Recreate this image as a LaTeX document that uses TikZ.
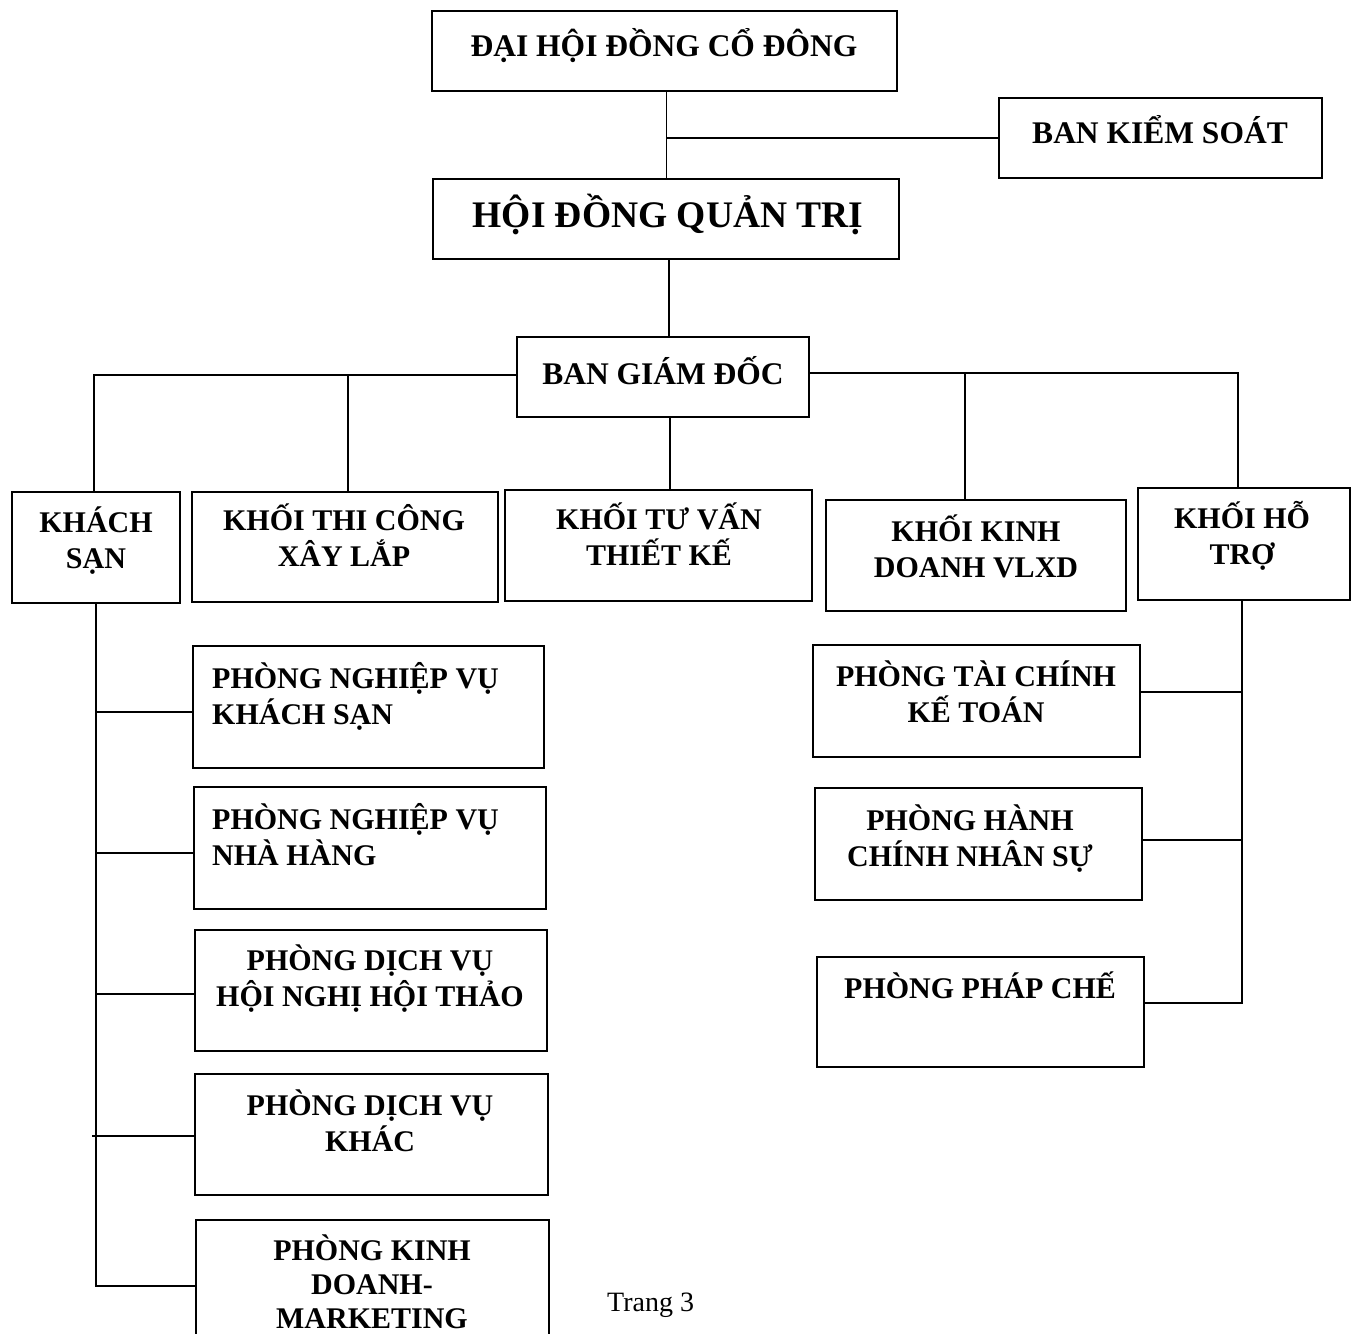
\documentclass[tikz,border=0pt]{standalone}
\usepackage{fontspec}
\setmainfont{Liberation Serif}
\newcommand\orgbox[5]{\node[box, minimum width={#4-#2}, minimum height={#5-#3}] (#1) at ({(#2+#4)/2},{(#3+#5)/2}) {};}
\begin{document}
\begin{tikzpicture}[x=1pt,y=-1pt,
  box/.style={draw=black, line width=1.7pt, inner sep=0pt},
  lbl/.style={font=\bfseries\fontsize{30}{35.5}\selectfont, inner sep=0pt, align=center, anchor=base},
  lbll/.style={lbl, align=left, anchor=base west},
  big/.style={font=\bfseries\fontsize{31.5}{36}\selectfont},
  huge/.style={font=\bfseries\fontsize{37.5}{42}\selectfont},
  con/.style={line width=1.7pt}]
\useasboundingbox (0,0) rectangle (1357,1333);
\clip (0,0) rectangle (1357,1333);
% boxes
\orgbox{dh}{432}{11}{897}{91}
\orgbox{bks}{999}{98}{1322}{178}
\orgbox{hd}{433}{179}{899}{259}
\orgbox{bgd}{517}{337}{809}{417}
\orgbox{ks}{12}{492}{180}{603}
\orgbox{tc}{192}{492}{498}{602}
\orgbox{tv}{505}{490}{812}{601}
\orgbox{kd}{826}{500}{1126}{611}
\orgbox{ht}{1138}{488}{1350}{600}
\orgbox{nv1}{193}{646}{544}{768}
\orgbox{nv2}{194}{787}{546}{909}
\orgbox{hn}{195}{930}{547}{1051}
\orgbox{dk}{195}{1074}{548}{1195}
\orgbox{pk}{196}{1220}{549}{1348}
\orgbox{tk}{813}{645}{1140}{757}
\orgbox{hc}{815}{788}{1142}{900}
\orgbox{pc}{817}{957}{1144}{1067}
% labels (base anchor = baseline of last line)
\node[lbl, big] (tdh) at (664,56) {ĐẠI HỘI ĐỒNG CỔ ĐÔNG};
\node[lbl, big] (tbks) at (1160,143) {BAN KIỂM SOÁT};
\node[lbl, huge] (thd) at (668,227) {HỘI ĐỒNG QUẢN TRỊ};
\node[lbl, big] (tbgd) at (663,384) {BAN GIÁM ĐỐC};
\node[lbl] (tks) at (96,568) {KHÁCH\\SẠN};
\node[lbl] (ttc) at (344,566) {KHỐI THI CÔNG\\XÂY LẮP};
\node[lbl] (ttv) at (659,565) {KHỐI TƯ VẤN\\THIẾT KẾ};
\node[lbl] (tkd) at (976,577) {KHỐI KINH\\DOANH VLXD};
\node[lbl] (tht) at (1242,564) {KHỐI HỖ\\TRỢ};
\node[lbll] (tnv1) at (212,724) {PHÒNG NGHIỆP VỤ\\KHÁCH SẠN};
\node[lbll] (tnv2) at (212,865) {PHÒNG NGHIỆP VỤ\\NHÀ HÀNG};
\node[lbl] (thn) at (370,1006) {PHÒNG DỊCH VỤ\\HỘI NGHỊ HỘI THẢO};
\node[lbl] (tdk) at (370,1151) {PHÒNG DỊCH VỤ\\KHÁC};
\node[lbl, font=\bfseries\fontsize{30}{34}\selectfont] (tpk) at (372,1328) {PHÒNG KINH\\DOANH-\\MARKETING};
\node[lbl] (ttk) at (976,722) {PHÒNG TÀI CHÍNH\\KẾ TOÁN};
\node[lbl] (thc) at (970,866) {PHÒNG HÀNH\\CHÍNH NHÂN SỰ};
\node[lbl] (tpc) at (980,998) {PHÒNG PHÁP CHẾ};
\node[inner sep=0pt, anchor=base west, font=\fontsize{28}{32}\selectfont] (trang) at (607,1311) {Trang 3};
% connectors
\draw[con] ([xshift=2pt]dh.south) -- ([xshift=2pt]dh.south |- hd.north);
\draw[con] ([xshift=2pt]dh.south |- bks.west) -- (bks.west);
\draw[con] ([xshift=3pt]hd.south) -- ([xshift=3pt]hd.south |- bgd.north);
\draw[con] ([yshift=2pt]bgd.west) -| ([xshift=-2pt]ks.north);
\draw[con] ([xshift=3pt,yshift=2pt]tc.north |- bgd.west) -- ([xshift=3pt]tc.north);
\draw[con] ([xshift=7pt]bgd.south) -- ([xshift=7pt]bgd.south |- tv.north);
\draw[con] ([yshift=4pt]bgd.east) -| ([xshift=-6pt]ht.north);
\draw[con] ([xshift=-11pt,yshift=4pt]kd.north |- bgd.east) -- ([xshift=-11pt]kd.north);
\draw[con] (ks.south) |- ([yshift=-2pt]pk.west);
\draw[con] ([yshift=-5pt]ks.south |- nv1.west) -- ([yshift=-5pt]nv1.west);
\draw[con] ([yshift=-5pt]ks.south |- nv2.west) -- ([yshift=-5pt]nv2.west);
\draw[con] ([yshift=-3.5pt]ks.south |- hn.west) -- ([yshift=-3.5pt]hn.west);
\draw[con] ([xshift=-4pt,yshift=-1.5pt]ks.south |- dk.west) -- ([yshift=-1.5pt]dk.west);
\draw[con] ([xshift=-2pt]ht.south) |- ([yshift=9pt]pc.east);
\draw[con] ([yshift=9pt]tk.east) -- ([xshift=-2pt,yshift=9pt]tk.east -| ht.south);
\draw[con] ([yshift=4pt]hc.east) -- ([xshift=-2pt,yshift=4pt]hc.east -| ht.south);
\end{tikzpicture}
\end{document}
